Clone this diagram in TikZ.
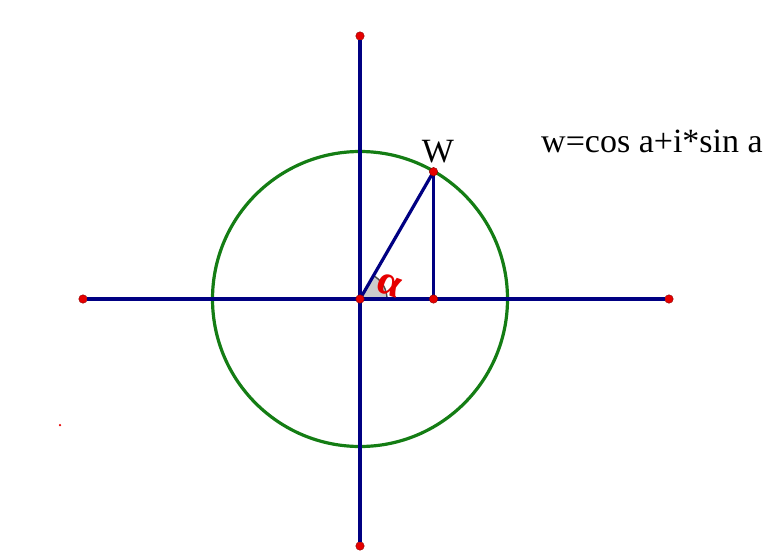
\documentclass[tikz,border=0pt]{standalone}
\usepackage{fontspec}
\setmainfont{Liberation Serif}
\usetikzlibrary{positioning,calc}

\definecolor{axisblue}{RGB}{0,0,130}
\definecolor{circgreen}{RGB}{20,125,20}
\definecolor{dotred}{RGB}{230,0,0}

\begin{document}
\begin{tikzpicture}[
    x=1pt, y=-1pt,
    dot/.style={circle, fill=dotred, draw=dotred!60!black, line width=0.4pt, inner sep=0pt, minimum size=8.5pt},
    axis/.style={draw=axisblue, line width=3.2pt},
    unitcircle/.style={draw=circgreen, line width=3.2pt},
    lbl/.style={font=\fontsize{34}{34}\selectfont, inner sep=0pt}
]
\useasboundingbox (0,0) rectangle (784,554);

% centre, axes ends
\coordinate (O) at (360,299);
\node[dot] (left) at (83,299) {};
\node[dot] (right) at (669,299) {};
\node[dot] (top) at (360,36) {};
\node[dot] (bottom) at (360,546) {};

% circle
\draw[unitcircle] (O) circle (147.5);

% point W and its foot
\coordinate (W) at ($(O)+(-60:147)$);
\coordinate (foot) at (W |- O);

% angle wedge
\fill[gray!40] (O) -- ++(27,0) arc[start angle=0, end angle=-60, radius=27] -- cycle;
\draw[black!70, line width=1.4pt] (O) ++(27,0) arc[start angle=0, end angle=-60, radius=27];

% lines
\draw[axis] (left) -- (right);
\draw[axis] (top) -- (bottom);
\draw[axis] (O) -- (W);
\draw[axis] (W) -- (foot);

\node[dot] (origin) at (O) {};
\node[dot] (wdot) at (W) {};
\node[dot] (footdot) at (foot) {};
\node[circle, fill=dotred, inner sep=0pt, minimum size=2.5pt] (stray) at (60,425) {};

% labels
\node[lbl, anchor=base] (wlabel) at (438,162) {W};
\node[lbl, anchor=base west] (formula) at (541,152) {w=cos a+i*sin a};
\node[lbl, text=dotred, rotate=-20, font=\bfseries\fontsize{42}{42}\selectfont] (alabel) at (389,285) {α};

\end{tikzpicture}
\end{document}
